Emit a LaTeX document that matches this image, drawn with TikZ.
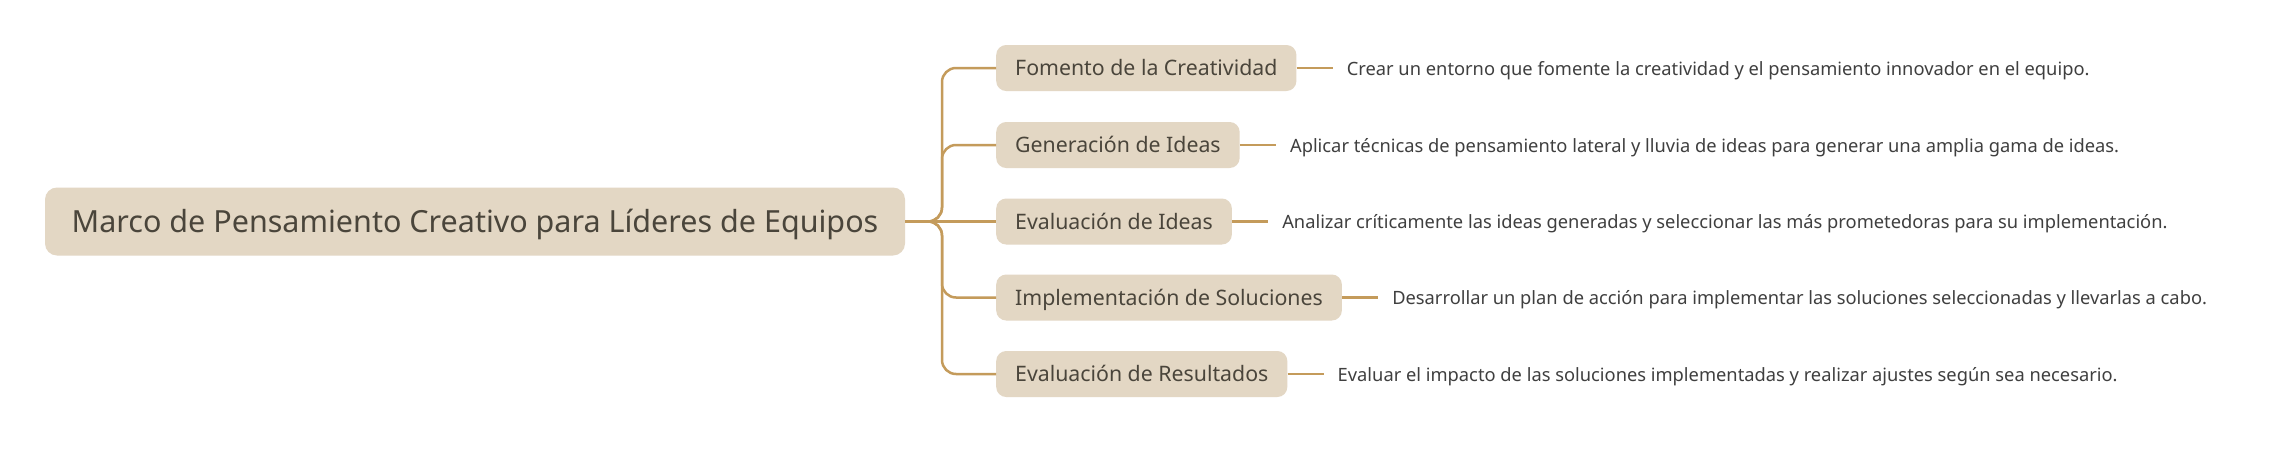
\documentclass[tikz,border=0pt]{standalone}
\usepackage{fontspec}
\setmainfont{Noto Sans}
\usetikzlibrary{positioning}
\definecolor{boxfill}{HTML}{E3D7C4}
\definecolor{conncol}{HTML}{C49B5B}
\definecolor{txtcol}{HTML}{4A453B}
\definecolor{leafcol}{HTML}{3F3F3F}
\tikzset{
  rootbox/.style={draw=none, fill=boxfill, rounded corners=12pt, text=txtcol,
    font=\fontsize{30.5}{34}\selectfont, minimum width=860pt, minimum height=68pt, inner sep=0pt,
    text height=29pt, text depth=7.3pt},
  branchbox/.style={draw=none, fill=boxfill, rounded corners=10pt, text=txtcol,
    font=\fontsize{21.3}{25}\selectfont, minimum height=46pt, inner xsep=19pt, inner ysep=0pt, anchor=west,
    text height=20.2pt, text depth=5.1pt},
  leaftext/.style={text=leafcol, font=\fontsize{18.3}{22}\selectfont, inner sep=0pt, anchor=west,
    text height=18.7pt, text depth=4.4pt},
  conn/.style={draw=conncol, line width=2.5pt},
  trunk/.style={conn, rounded corners=14pt}
}
\begin{document}
\begin{tikzpicture}[x=1pt, y=-1pt]
\useasboundingbox[fill=white] (0,0) rectangle (2271,458);
\node[rootbox] (root) at (475,221.5) {Marco de Pensamiento Creativo para Líderes de Equipos};
\node[branchbox] (b1) at (996,68) {Fomento de la Creatividad};
\node[branchbox] (b2) at (996,145) {Generación de Ideas};
\node[branchbox] (b3) at (996,221.5) {Evaluación de Ideas};
\node[branchbox] (b4) at (996,297.5) {Implementación de Soluciones};
\node[branchbox] (b5) at (996,374) {Evaluación de Resultados};
\node[leaftext, right=50pt of b1] (l1) {Crear un entorno que fomente la creatividad y el pensamiento innovador en el equipo.};
\node[leaftext, right=50pt of b2] (l2) {Aplicar técnicas de pensamiento lateral y lluvia de ideas para generar una amplia gama de ideas.};
\node[leaftext, right=50pt of b3] (l3) {Analizar críticamente las ideas generadas y seleccionar las más prometedoras para su implementación.};
\node[leaftext, right=50pt of b4] (l4) {Desarrollar un plan de acción para implementar las soluciones seleccionadas y llevarlas a cabo.};
\node[leaftext, right=50pt of b5] (l5) {Evaluar el impacto de las soluciones implementadas y realizar ajustes según sea necesario.};
\coordinate (tr) at (942,221.5);
\foreach \b in {b1,b2,b4,b5}{
  \draw[trunk] (root.east) -- (tr) |- (\b.west);
}
\draw[conn] (root.east) -- (b3.west);
\foreach \i in {1,...,5}{
  \draw[conn] (b\i.east) -- ([xshift=-14pt]l\i.west);
}
\end{tikzpicture}
\end{document}
